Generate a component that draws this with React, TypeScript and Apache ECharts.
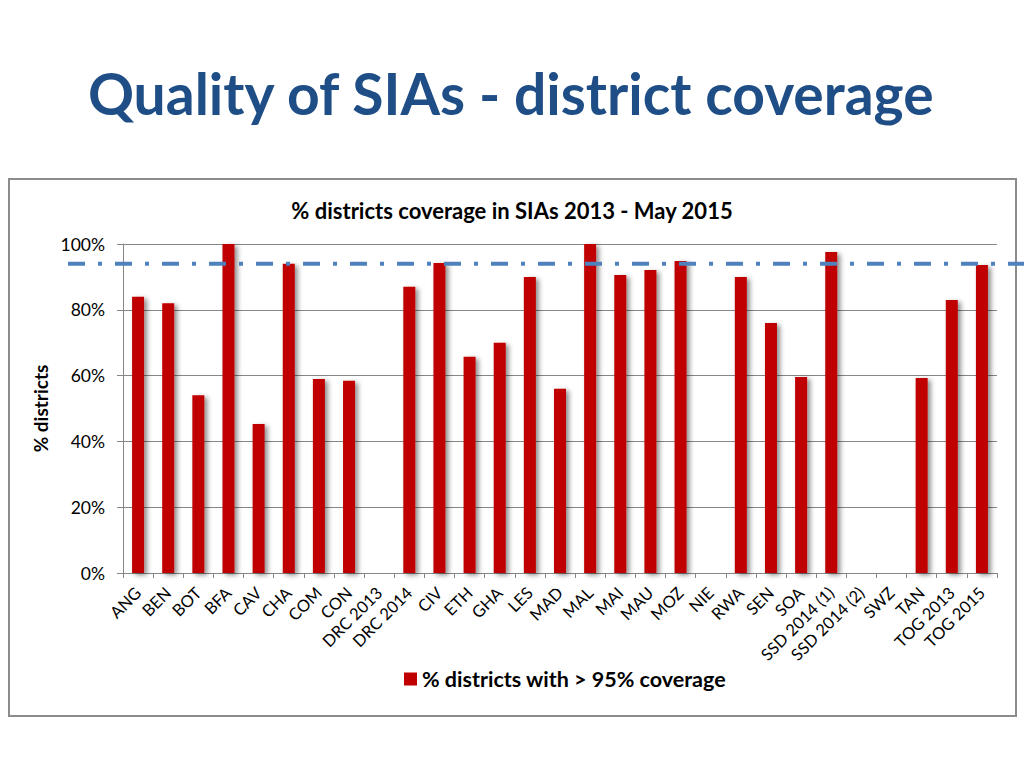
import React, { useEffect, useRef } from "react";
import * as echarts from "echarts";

const categories = [
  "ANG", "BEN", "BOT", "BFA", "CAV", "CHA", "COM", "CON", "DRC 2013", "DRC 2014",
  "CIV", "ETH", "GHA", "LES", "MAD", "MAL", "MAI", "MAU", "MOZ", "NIE",
  "RWA", "SEN", "SOA", "SSD 2014 (1)", "SSD 2014 (2)", "SWZ", "TAN", "TOG 2013", "TOG 2015",
];
const coverage: (number | null)[] = [
  84, 82, 54, 100, 45.3, 94, 59, 58.4, null, 87,
  94.2, 65.7, 70, 90, 56, 100, 90.6, 92.1, 94.8, null,
  90, 76, 59.6, 97.6, null, null, 59.3, 83, 93.6,
];
const threshold = 94;
const yTicks = [0, 20, 40, 60, 80, 100];

const FONT = "Lato, 'Open Sans', sans-serif";

export default function App() {
  const ref = useRef<HTMLDivElement>(null);
  useEffect(() => {
    if (!ref.current) return;
    const chart = echarts.init(ref.current, null, { renderer: "svg" });
    chart.setOption({
      animation: false,
      backgroundColor: "#ffffff",
      textStyle: { fontFamily: FONT },
      title: {
        text: "% districts coverage in SIAs 2013 - May 2015",
        left: "center",
        top: 194,
        textStyle: { fontFamily: FONT, fontSize: 22, fontWeight: "bold", color: "#000" },
      },
      legend: {
        bottom: 73,
        left: 399,
        icon: "rect",
        itemWidth: 13,
        itemHeight: 13,
        itemGap: 8,
        textStyle: { fontFamily: FONT, fontSize: 21.5, fontWeight: "bold", color: "#000" },
        data: ["% districts with > 95% coverage"],
      },
      grid: { left: 123, right: 27, top: 244, bottom: 195, containLabel: false },
      xAxis: {
        type: "category",
        data: categories,
        axisLine: { lineStyle: { color: "#868686", width: 1 } },
        axisTick: { show: true, length: 5, lineStyle: { color: "#868686" } },
        axisLabel: { rotate: 45, fontSize: 16.5, color: "#000", fontFamily: FONT, interval: 0, margin: 17 },
      },
      yAxis: {
        type: "value",
        min: yTicks[0],
        max: yTicks[yTicks.length - 1],
        interval: 20,
        name: "% districts",
        nameLocation: "middle",
        nameGap: 71,
        nameTextStyle: { fontFamily: FONT, fontSize: 19, fontWeight: "bold", color: "#000" },
        axisLine: { show: true, lineStyle: { color: "#868686" } },
        axisTick: { show: true, length: 6, lineStyle: { color: "#868686" } },
        splitLine: { lineStyle: { color: "#868686", width: 1 } },
        axisLabel: { formatter: "{value}%", fontSize: 17.5, color: "#000", fontFamily: FONT, margin: 18 },
      },
      series: [
        {
          name: "% districts with > 95% coverage",
          type: "bar",
          data: coverage.map((v) => (v === null ? "-" : v)),
          barWidth: 12,
          itemStyle: {
            color: "#C00000",
            shadowColor: "rgba(0,0,0,0.45)",
            shadowBlur: 5,
            shadowOffsetX: 3,
            shadowOffsetY: 2,
          },
        },
      ],
    });
    const y = chart.convertToPixel({ yAxisIndex: 0 }, threshold) as number;
    chart.setOption({
      graphic: [
        {
          type: "rect",
          shape: { x: 9, y: 179, width: 1007, height: 537 },
          style: { fill: "none", stroke: "#8c8c8c", lineWidth: 2 },
          silent: true,
          z: -1,
        },
        {
          type: "text",
          left: "center",
          top: 64,
          style: {
            text: "Quality of SIAs - district coverage",
            font: `bold 57px ${FONT}`,
            fill: "#1F4E86",
            shadowColor: "rgba(0,0,0,0.35)",
            shadowBlur: 3,
            shadowOffsetX: 2,
            shadowOffsetY: 2,
          },
        },
        {
          type: "line",
          shape: { x1: 68, y1: y, x2: 1030, y2: y },
          style: {
            stroke: "#4F81BD",
            lineWidth: 4,
            lineDash: [17, 13, 4, 13],
          },
          z: 100,
        },
      ],
    });
    return () => chart.dispose();
  }, []);
  return (
    <div
      ref={ref}
      style={{ position: "fixed", left: 0, top: 0, width: 1024, height: 768 }}
    />
  );
}
